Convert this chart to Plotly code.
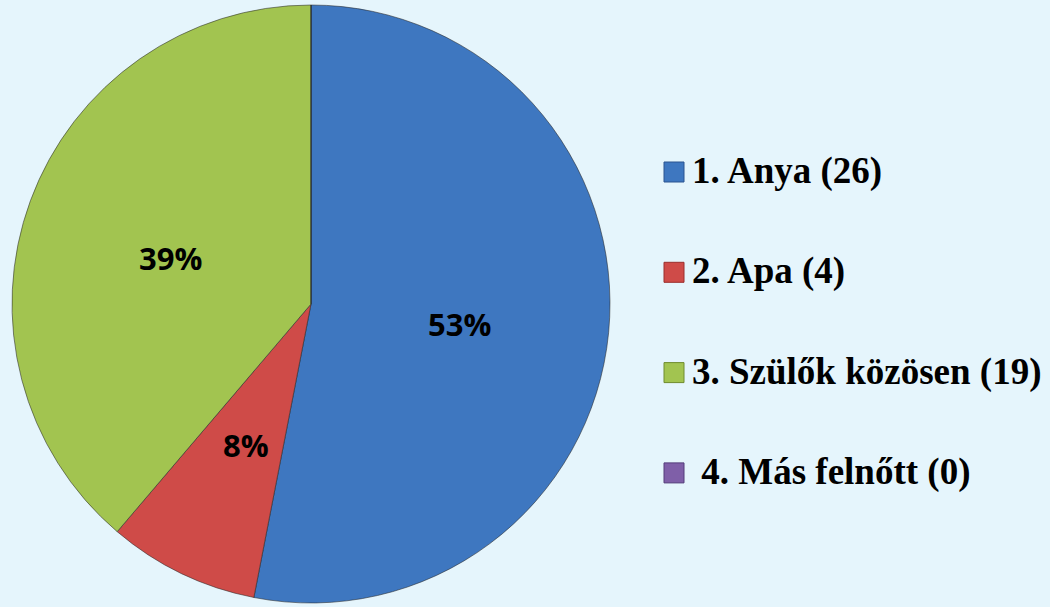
import math
import plotly.graph_objects as go

categories = ["1. Anya", "2. Apa", "3. Szülők közösen", "\u00a04. Más felnőtt"]
values = [26, 4, 19, 0]
colors = ["#3E77C0", "#CF4B48", "#A2C450", "#7F5FA8"]
legend_border = ["#2A5590", "#9A2E2C", "#6F8C2E", "#553D7A"]

bg = "#E5F5FC"
W, H = 1050, 607

# pie placement (pixels)
px0, px1 = 11, 611
py0, py1 = 5, 603

fig = go.Figure()
fig.add_trace(go.Pie(
    labels=categories,
    values=values,
    sort=False,
    direction="clockwise",
    rotation=0,
    marker=dict(colors=colors, line=dict(color="rgba(40,40,40,0.55)", width=1)),
    textinfo="none",
    domain=dict(x=[px0/W, px1/W], y=[1 - py1/H, 1 - py0/H]),
    showlegend=False,
    hoverinfo="label+value+percent",
))

shapes = []
annotations = []

# percentage labels at half radius along each slice bisector
total = sum(values)
cx, cy = (px0 + px1)/2, (py0 + py1)/2
R = min(px1 - px0, py1 - py0)/2
cum = 0
for v in values:
    if v > 0:
        mid = (cum + v/2)/total*2*math.pi
        lx = cx + 0.5*R*math.sin(mid)
        ly = cy - 0.5*R*math.cos(mid) + 6
        annotations.append(dict(
            xref="paper", yref="paper", x=lx/W, y=1 - ly/H,
            xanchor="center", yanchor="middle", showarrow=False,
            text=f"{round(v/total*100)}%",
            font=dict(family="Open Sans", size=31, color="black", weight="bold"),
        ))
    cum += v

# custom legend built from the data lists
y_top = 1 - 172/H
step = 100.3/H
for i, (cat, val) in enumerate(zip(categories, values)):
    yc = y_top - i*step
    shapes.append(dict(
        type="rect", xref="paper", yref="paper",
        x0=664/W, x1=684/W, y0=yc - 10/H, y1=yc + 10/H,
        fillcolor=colors[i], line=dict(color=legend_border[i], width=1),
    ))
    annotations.append(dict(
        xref="paper", yref="paper", x=690/W, y=yc + 1/H,
        xanchor="left", yanchor="middle", showarrow=False,
        text=f"{cat} ({val})",
        font=dict(family="Liberation Serif", size=37, color="black", weight="bold"),
    ))

fig.update_layout(
    width=W, height=H,
    margin=dict(l=0, r=0, t=0, b=0),
    paper_bgcolor=bg, plot_bgcolor=bg,
    shapes=shapes, annotations=annotations,
)

fig.write_html(
    "out.html",
    config={"displayModeBar": False},
    post_script="document.body.style.margin='0';document.body.style.background='" + bg + "';",
)
